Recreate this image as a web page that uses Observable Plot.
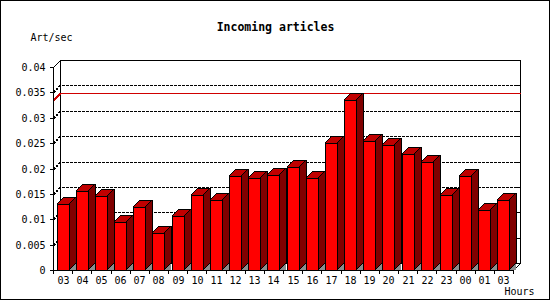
<!DOCTYPE html>
<html>
<head>
<meta charset="utf-8">
<script src="https://cdn.jsdelivr.net/npm/d3@7"></script>
<script src="https://cdn.jsdelivr.net/npm/@observablehq/plot@0.6"></script>
<style>
  html, body { margin: 0; padding: 0; background: #fff; }
  #chart svg { display: block; outline: 1px solid #000; outline-offset: -1px; }
</style>
</head>
<body>
<div id="chart"></div>
<script>
// ---- data ----
const hours = ["03","04","05","06","07","08","09","10","11","12","13","14","15","16","17","18","19","20","21","22","23","00","01","03"];
const values = [0.0131, 0.0155, 0.0145, 0.0094, 0.0125, 0.0072, 0.0106, 0.0147, 0.0137, 0.0185, 0.0181, 0.0187,
                0.0202, 0.0181, 0.0250, 0.0334, 0.0254, 0.0246, 0.0228, 0.0212, 0.0147, 0.0185, 0.0118, 0.0137];
const yTicks = [0, 0.005, 0.01, 0.015, 0.02, 0.025, 0.03, 0.035, 0.04];
const title = "Incoming articles";
const yLabel = "Art/sec";
const xLabel = "Hours";

// ---- layout ----
const W = 550, H = 300;
const mL = 53, mR = 37, mT = 67, mB = 30;
const n = hours.length;
const yMax = 0.04;
const pxX = n / (W - mL - mR);        // data units per pixel (x)
const pxY = yMax / (H - mT - mB);     // data units per pixel (y)
const depth = 7;
const dX = depth * pxX, dY = depth * pxY;
const halfW = 6 * pxX;
const crisp = "crispEdges";

const bars = values.map((v, i) => ({i, v, xl: i + 0.5 - halfW, xr: i + 0.5 + halfW}));
const topFaces = bars.flatMap(b => [
  {i: b.i, y: b.v, x1: b.xl, x2: b.xr},
  {i: b.i, y: b.v + dY, x1: b.xl + dX, x2: b.xr + dX}
]);
const sideFaces = bars.flatMap(b => [
  {i: b.i, x: b.xr, y1: 0, y2: b.v},
  {i: b.i, x: b.xr + dX, y1: dY, y2: b.v + dY}
]);
const shadows = bars.flatMap(b => [
  {i: b.i, x: b.xr, y1: 0, y2: 0},
  {i: b.i, x: b.xr + dX, y1: 0, y2: dY}
]);
const gridTicks = yTicks.filter(t => t > 0 && t < yMax);
const gridPts = gridTicks.flatMap(t => [
  {t, x: 0, y: t}, {t, x: dX, y: t + dY}, {t, x: n + dX, y: t + dY}
]);
const maxV = d3.max(values);
const maxPts = [{x: 0, y: maxV}, {x: dX, y: maxV + dY}, {x: n + dX, y: maxV + dY}];

const chart = Plot.plot({
  width: W, height: H,
  marginLeft: mL, marginRight: mR, marginTop: mT, marginBottom: mB,
  style: {fontFamily: "'DejaVu Sans Mono', monospace", fontSize: "10px", background: "#fff", color: "#000"},
  x: {domain: [0, n], axis: null, round: true},
  y: {domain: [0, yMax], axis: null, round: true},
  marks: [
    // back wall
    Plot.rect([0], {x1: dX, x2: n + dX, y1: dY, y2: yMax + dY, fill: "none", stroke: "#000", shapeRendering: crisp}),
    Plot.link([0], {x1: 0, y1: yMax, x2: dX, y2: yMax + dY, stroke: "#000", shapeRendering: crisp}),
    Plot.link([0], {x1: n, y1: 0, x2: n + dX, y2: dY, stroke: "#000", shapeRendering: crisp}),
    // grid (dotted, on back wall)
    Plot.line(gridPts, {x: "x", y: "y", z: "t", stroke: "#000", strokeDasharray: "2,2", curve: "linear", shapeRendering: crisp}),
    // right-side ticks on back wall
    Plot.ruleY(gridTicks, {y: d => d + dY, x1: n + dX - 3 * pxX, x2: n + dX, stroke: "#000", shapeRendering: crisp}),
    // max line
    Plot.line(maxPts, {x: "x", y: "y", stroke: "#d00000", curve: "linear", shapeRendering: crisp}),
    // bars
    Plot.rect(bars, {x1: "xl", x2: "xr", y1: 0, y2: "v", fill: "#ff0000", stroke: "#000", shapeRendering: crisp}),
    Plot.areaX(topFaces, {y: "y", x1: "x1", x2: "x2", z: "i", fill: "#c00000", stroke: "#000", curve: "linear", shapeRendering: crisp}),
    Plot.areaY(sideFaces, {x: "x", y1: "y1", y2: "y2", z: "i", fill: "#800000", stroke: "#000", curve: "linear", shapeRendering: crisp}),
    Plot.areaY(shadows, {x: "x", y1: "y1", y2: "y2", z: "i", fill: "#8c8c8c", curve: "linear", shapeRendering: crisp}),
    // axes
    Plot.ruleY([0], {x1: 0, x2: n, stroke: "#000", shapeRendering: crisp}),
    Plot.ruleX([0], {y1: 0, y2: yMax, stroke: "#000", shapeRendering: crisp}),
    Plot.axisY(yTicks, {tickSize: 3, tickPadding: 5, tickFormat: d => String(d), label: null, shapeRendering: crisp}),
    Plot.ruleX(d3.range(n + 1), {y1: 0, y2: -4 * pxY, stroke: "#000", shapeRendering: crisp}),
    Plot.text(hours, {x: (d, i) => i + 0.5, y: 0, dy: 10, text: d => d, fill: "#000"}),
    // titles
    Plot.text([title], {frameAnchor: "top", lineAnchor: "middle", dx: -8, dy: -40, fontWeight: "bold", fontSize: 11.5, fill: "#000"}),
    Plot.text([yLabel], {frameAnchor: "top-left", lineAnchor: "middle", textAnchor: "start", dx: -23, dy: -30, fill: "#000"}),
    Plot.text([xLabel], {frameAnchor: "bottom-right", lineAnchor: "middle", textAnchor: "end", dx: 21, dy: 21.5, fill: "#000"})
  ]
});
document.getElementById("chart").appendChild(chart);
</script>
</body>
</html>
